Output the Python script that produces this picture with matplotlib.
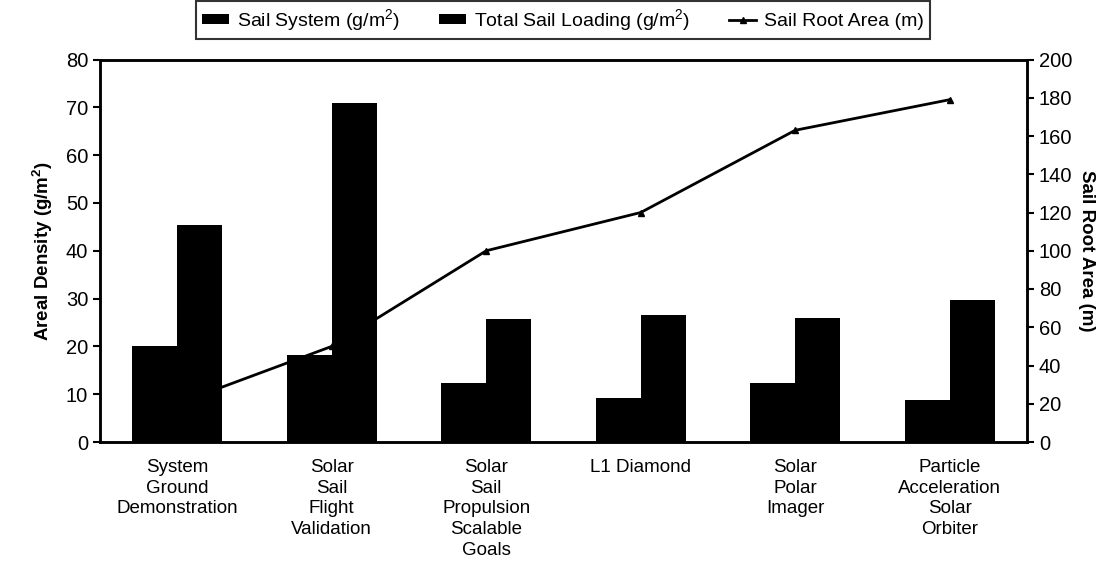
import matplotlib
matplotlib.use("Agg")
import matplotlib.pyplot as plt
import numpy as np

categories = ["System\nGround\nDemonstration", "Solar\nSail\nFlight\nValidation",
              "Solar\nSail\nPropulsion\nScalable\nGoals", "L1 Diamond",
              "Solar\nPolar\nImager", "Particle\nAcceleration\nSolar\nOrbiter"]
sail_system = [20.0, 18.2, 12.3, 9.3, 12.3, 8.8]
total_loading = [45.4, 70.8, 25.7, 26.6, 26.0, 29.8]
root_area = [20, 50, 100, 120, 163, 179]
left_ticks = [0, 10, 20, 30, 40, 50, 60, 70, 80]
right_ticks = [0, 20, 40, 60, 80, 100, 120, 140, 160, 180, 200]

plt.rcParams['font.family'] = ['Liberation Sans Narrow', 'Liberation Sans', 'DejaVu Sans']
plt.rcParams['mathtext.default'] = 'regular'

fig = plt.figure(figsize=(11.05, 5.82), dpi=100)
ax = fig.add_axes([100/1105, 1-442/582, (1027-100)/1105, (442-59.5)/582])
ax2 = ax.twinx()
ax2.set_zorder(ax.get_zorder() - 1)
ax.patch.set_visible(False)

x = np.arange(len(categories))
w = 0.29
b1 = ax.bar(x - w/2, sail_system, w, color='black', label='Sail System (g/m$^2$)')
b2 = ax.bar(x + w/2, total_loading, w, color='black', label='Total Sail Loading (g/m$^2$)')
ln, = ax2.plot(x, root_area, color='black', lw=2, marker='^', ms=5, label='Sail Root Area (m)')

ax.set_xlim(-0.5, len(categories) - 0.5)
ax.set_ylim(0, 80)
ax2.set_ylim(0, 200)
ax.set_yticks(left_ticks)
ax2.set_yticks(right_ticks)
ax.set_xticks(x)
ax.set_xticklabels(categories, fontsize=13.5, va='top', linespacing=1.3)
ax.tick_params(axis='x', length=0, pad=12)
ax.tick_params(axis='y', labelsize=14.5, width=1.5, length=5, direction='out')
ax2.tick_params(axis='y', labelsize=14.5, width=1.5, length=5, direction='out')

for a in (ax, ax2):
    for s in a.spines.values():
        s.set_linewidth(1.8)

ax.set_ylabel('Areal Density (g/m$^2$)', fontsize=13.5, fontweight='bold', labelpad=8)
ax2.set_ylabel('Sail Root Area (m)', fontsize=13.5, fontweight='bold', rotation=-90, labelpad=16)

leg = fig.legend(handles=[b1, b2, ln], loc='center', bbox_to_anchor=(563/1105, 1-20/582),
                 ncol=3, fontsize=14, frameon=True, fancybox=False, edgecolor='black',
                 handlelength=1.4, handleheight=0.35, handletextpad=0.4, columnspacing=2.0,
                 borderpad=0.3)
leg.get_frame().set_linewidth(1.5)

fig.savefig('out.png', dpi=100)
